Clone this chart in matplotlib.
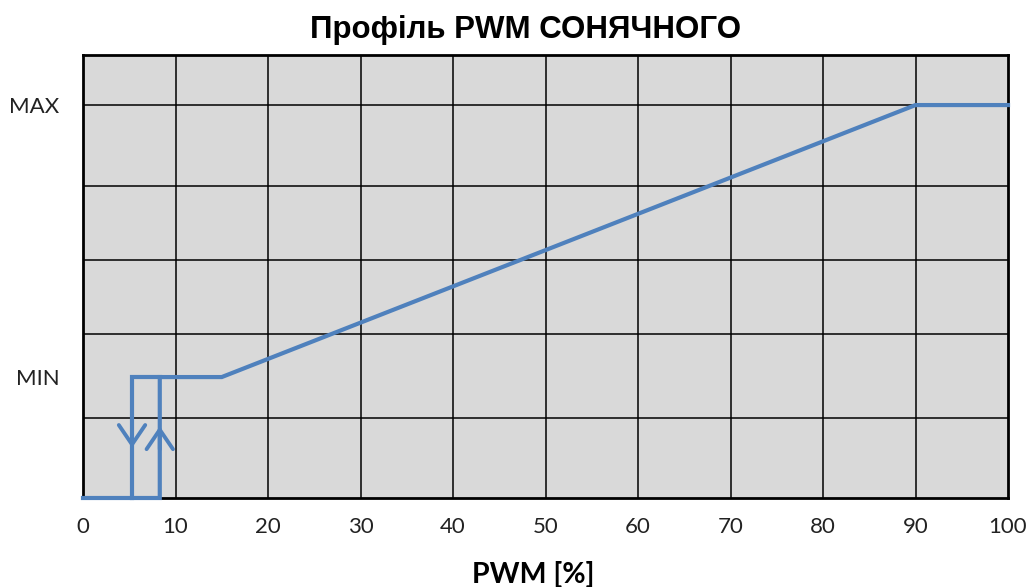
import matplotlib
matplotlib.use("Agg")
import matplotlib.pyplot as plt

# ---- data ----
title = "Профіль PWM СОНЯЧНОГО"
xlabel = "PWM [%]"
x_ticks = [0, 10, 20, 30, 40, 50, 60, 70, 80, 90, 100]
y_min_level = 27.3
y_max_level = 88.7
y_tick_pos = [y_min_level, y_max_level]
y_tick_labels = ["MIN", "MAX"]
h_grid = [18.1, 37.0, 53.7, 70.4, 88.7]
v_grid = [10, 20, 30, 40, 50, 60, 70, 80, 90]

# switching on (rising PWM) path
on_x = [0, 8.3, 8.3, 15, 90, 100]
on_y = [0, 0, y_min_level, y_min_level, y_max_level, y_max_level]
# switching off (falling PWM) path
off_x = [8.3, 5.3, 5.3]
off_y = [y_min_level, y_min_level, 0]
# hysteresis arrows: (x, start_y, end_y)
arrow_down = (5.3, 16.0, 11.3)
arrow_up = (8.3, 11.0, 16.2)

blue = "#4f81bd"

fig = plt.figure(figsize=(10.31, 5.87), dpi=100)
W, H = 1031, 587
ax = fig.add_axes([83 / W, 1 - 498 / H, (1008 - 83) / W, (498 - 55) / H])
ax.set_facecolor("#d9d9d9")
ax.set_xlim(0, 100)
ax.set_ylim(0, 100)

for x in v_grid:
    ax.axvline(x, color="black", lw=1.1, zorder=1)
for y in h_grid:
    ax.axhline(y, color="black", lw=1.1, zorder=1)

ax.plot(on_x, on_y, color=blue, lw=3.0, solid_joinstyle="miter", clip_on=False, zorder=3)
ax.plot(off_x, off_y, color=blue, lw=3.0, solid_joinstyle="miter", clip_on=False, zorder=3)

for (x, y0, y1) in [arrow_down, arrow_up]:
    ax.annotate("", xy=(x, y1), xytext=(x, y0),
                arrowprops=dict(arrowstyle="->,head_length=1.4,head_width=0.95",
                                color=blue, lw=2.8, mutation_scale=10,
                                shrinkA=0, shrinkB=0),
                zorder=4)

for s in ax.spines.values():
    s.set_linewidth(2.0)
    s.set_color("black")
    s.set_zorder(2)

ax.set_xticks(x_ticks)
ax.set_xticklabels([str(v) for v in x_ticks], fontfamily="Lato", fontsize=16, color="#222222")
ax.set_yticks(y_tick_pos)
ax.set_yticklabels(y_tick_labels, fontfamily="Lato", fontsize=16, color="#222222")
ax.tick_params(axis="both", length=0)
ax.tick_params(axis="x", pad=14)
ax.tick_params(axis="y", pad=17)

fig.text(526 / W, 1 - 30 / H, title, ha="center", va="center",
         fontfamily="Liberation Sans", fontweight="bold", fontsize=22.5)
fig.text(533 / W, 1 - 575 / H, xlabel, ha="center", va="center",
         fontfamily="Lato", fontweight="bold", fontsize=20.5)

fig.savefig("out.png", dpi=100)
